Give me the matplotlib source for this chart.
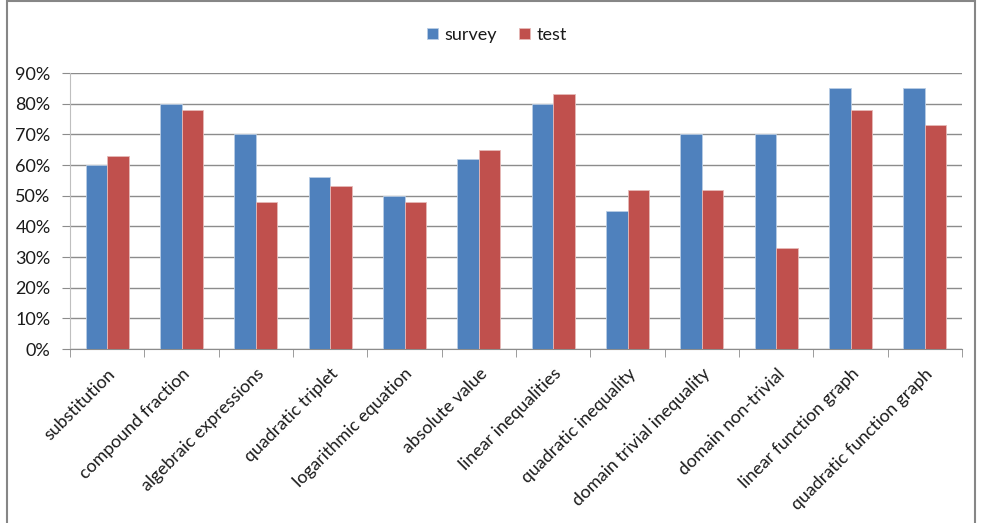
import numpy as np
import matplotlib.pyplot as plt
from matplotlib.patches import Rectangle
from matplotlib.ticker import FuncFormatter

# Data
categories = ["substitution", "compound fraction", "algebraic expressions",
              "quadratic triplet", "logarithmic equation", "absolute value",
              "linear inequalities", "quadratic inequality",
              "domain trivial inequality", "domain non-trivial",
              "linear function graph", "quadratic function graph"]
survey = [60, 80, 70, 56, 50, 62, 80, 45, 70, 70, 85, 85]
test = [63, 78, 48, 53, 48, 65, 83, 52, 52, 33, 78, 73]

plt.rcParams["font.family"] = ["Lato", "DejaVu Sans"]

W, H = 981, 523
fig = plt.figure(figsize=(W / 100, H / 100), dpi=100)
ax = fig.add_axes([70 / W, (H - 349) / H, 892 / W, 276 / H])

x = np.arange(len(categories))
bw = 0.287
ax.bar(x - bw / 2, survey, bw, color="#4F81BD", edgecolor="#B9CDE5",
       linewidth=0.6, label="survey", zorder=3)
ax.bar(x + bw / 2, test, bw, color="#C0504D", edgecolor="#E6B9B8",
       linewidth=0.6, label="test", zorder=3)

ax.set_xlim(-0.5, len(categories) - 0.5)
ax.set_ylim(0, 90)
ax.set_yticks(np.arange(0, 91, 10))
ax.yaxis.set_major_formatter(FuncFormatter(lambda v, p: f"{v:.0f}%"))
ax.grid(axis="y", color="#8C8C8C", linewidth=1, zorder=0)
ax.tick_params(axis="y", length=6, color="#8C8C8C", labelsize=13,
               labelcolor="#1a1a1a", pad=8)

ax.set_xticks(x)
ax.set_xticklabels(categories, rotation=45, ha="right", rotation_mode="anchor",
                   fontsize=12.8, color="#1a1a1a")
ax.set_xticks(np.arange(-0.5, len(categories), 1), minor=True)
ax.tick_params(axis="x", which="major", length=0, pad=12)
ax.tick_params(axis="x", which="minor", length=6, color="#8C8C8C")

for s in ["top", "right"]:
    ax.spines[s].set_visible(False)
ax.spines["left"].set_color("#BFBFBF")
ax.spines["bottom"].set_color("#8C8C8C")

fig.legend(loc="center", bbox_to_anchor=(497 / W, 1 - 35 / H), ncol=2,
           frameon=False, fontsize=13, handlelength=0.6, handleheight=0.6,
           handletextpad=0.4, columnspacing=1.2, labelcolor="#1a1a1a")

# outer chart frame
fig.patches.append(Rectangle((7 / W, -0.05), 968 / W, 1.05 - 1.5 / H,
                             transform=fig.transFigure, fill=False,
                             edgecolor="#868686", linewidth=1.5))

fig.savefig("out.png", dpi=100)
